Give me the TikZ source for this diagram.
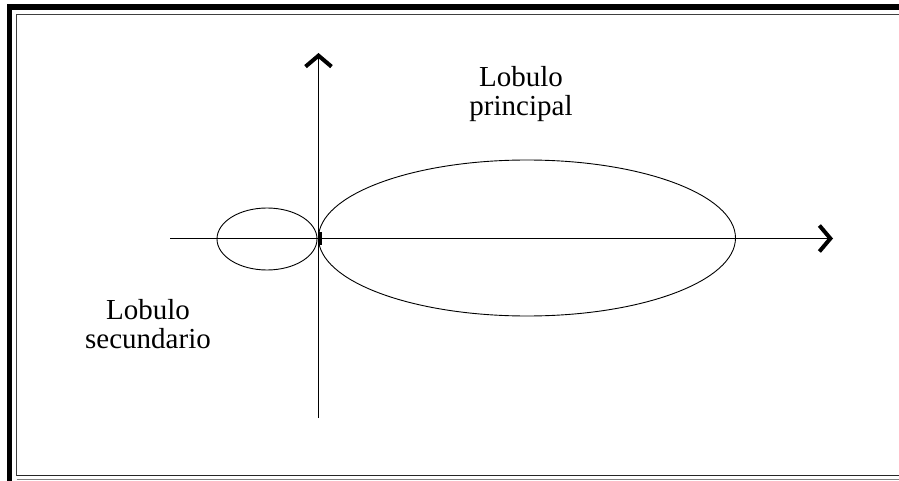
\documentclass[tikz,border=0pt]{standalone}
\usepackage{fontspec}
\setmainfont{Liberation Serif}
\usetikzlibrary{arrows.meta}
\begin{document}
\begin{tikzpicture}[x=1pt,y=-1pt,
  axisline/.style={line width=1pt,-{Straight Barb[length=11pt,width=26pt,line width=4pt]}},
  lobe/.style={line width=0.9pt},
  lbl/.style={font=\fontsize{29}{29}\selectfont,align=center,inner sep=0pt}]
\useasboundingbox (0,0) rectangle (899,481);
% frame
\fill[black] (7,4) rectangle (899,10);
\fill[black] (7,4) rectangle (12,481);
\draw[line width=1.3pt,black!75] (16.5,14.5) -- (899,14.5);
\draw[line width=1.3pt,black!75] (16.5,14.5) -- (16.5,476);
\draw[line width=1.5pt,black!85] (16.5,475.5) -- (899,475.5);
\draw[line width=1.3pt,black!50] (16.5,479.5) -- (899,479.5);
% coordinates
\coordinate (xs) at (170,238.5);
\coordinate (xe) at (833,238.5);
\coordinate (ys) at (318.5,418);
\coordinate (ye) at (318.5,53);
% lobes
\draw[lobe] (267,239) ellipse [x radius=50, y radius=31];
\draw[lobe] (527,238) ellipse [x radius=208.5, y radius=78];
\draw[line width=3pt] (320,232) -- (320,245);
% axes
\draw[axisline] (xs) -- (xe);
\draw[axisline] (ys) -- (ye);
% labels
\node[lbl] (princ) at (521,94) {Lobulo\\principal};
\node[lbl] (sec) at (148,324) {Lobulo\\secundario};
\end{tikzpicture}
\end{document}
